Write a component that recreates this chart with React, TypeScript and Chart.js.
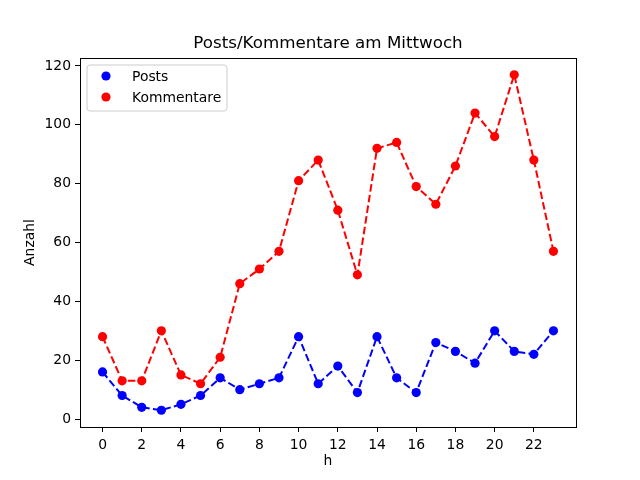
import { useEffect, useRef } from 'react';
import { Chart, registerables } from 'chart.js';

Chart.register(...registerables);

const hours = [0, 1, 2, 3, 4, 5, 6, 7, 8, 9, 10, 11, 12, 13, 14, 15, 16, 17, 18, 19, 20, 21, 22, 23];
const posts = [16, 8, 4, 3, 5, 8, 14, 10, 12, 14, 28, 12, 18, 9, 28, 14, 9, 26, 23, 19, 30, 23, 22, 30];
const kommentare = [28, 13, 13, 30, 15, 12, 21, 46, 51, 57, 81, 88, 71, 49, 92, 94, 79, 73, 86, 104, 96, 117, 88, 57];
const xTicks = [0, 2, 4, 6, 8, 10, 12, 14, 16, 18, 20, 22];
const yTicks = [0, 20, 40, 60, 80, 100, 120];

const FONT = 'DejaVu Sans';

// frame, title and in-axes legend like matplotlib
const decorPlugin = {
  id: 'decor',
  afterDraw(chart: Chart) {
    const { ctx, chartArea } = chart;
    ctx.save();
    ctx.strokeStyle = '#000';
    ctx.lineWidth = 1;
    ctx.strokeRect(
      Math.round(chartArea.left) + 0.5,
      Math.round(chartArea.top) + 0.5,
      Math.round(chartArea.right - chartArea.left),
      Math.round(chartArea.bottom - chartArea.top)
    );

    ctx.fillStyle = '#000';
    ctx.font = `16.7px "${FONT}"`;
    ctx.textAlign = 'center';
    ctx.textBaseline = 'middle';
    ctx.fillText('Posts/Kommentare am Mittwoch', (chartArea.left + chartArea.right) / 2, 44);

    // legend box
    const bx = 87, by = 65, bw = 140, bh = 46, r = 3;
    ctx.beginPath();
    ctx.moveTo(bx + r, by);
    ctx.arcTo(bx + bw, by, bx + bw, by + bh, r);
    ctx.arcTo(bx + bw, by + bh, bx, by + bh, r);
    ctx.arcTo(bx, by + bh, bx, by, r);
    ctx.arcTo(bx, by, bx + bw, by, r);
    ctx.closePath();
    ctx.fillStyle = 'rgba(255,255,255,0.8)';
    ctx.fill();
    ctx.strokeStyle = '#cccccc';
    ctx.stroke();

    chart.data.datasets.forEach((ds: any, i: number) => {
      const y = 76 + i * 21;
      ctx.beginPath();
      ctx.arc(106, y, 4.6, 0, Math.PI * 2);
      ctx.fillStyle = ds.pointBackgroundColor;
      ctx.fill();
      ctx.fillStyle = '#000';
      ctx.font = `13.9px "${FONT}"`;
      ctx.textAlign = 'left';
      ctx.textBaseline = 'middle';
      ctx.fillText(ds.label, 132, y + 1);
    });
    ctx.restore();
  },
};

export default function App() {
  const canvasRef = useRef<HTMLCanvasElement>(null);

  useEffect(() => {
    document.body.style.margin = '0';
    if (!canvasRef.current) return;
    const makeSet = (label: string, values: number[], color: string) => ({
      label,
      data: values.map((v, i) => ({ x: hours[i], y: v })),
      borderColor: color,
      backgroundColor: color,
      pointBackgroundColor: color,
      pointBorderColor: color,
      pointRadius: 4.6,
      pointBorderWidth: 0,
      borderWidth: 2,
      borderDash: [7.5, 3.3],
      tension: 0,
    });

    const chart = new Chart(canvasRef.current, {
      type: 'line',
      data: {
        datasets: [makeSet('Posts', posts, '#0000ff'), makeSet('Kommentare', kommentare, '#ff0000')],
      },
      options: {
        animation: false,
        responsive: true,
        maintainAspectRatio: false,
        layout: { padding: { top: 58, right: 64, left: 0, bottom: 0 } },
        plugins: {
          legend: { display: false },
          tooltip: { enabled: false },
          title: { display: false },
        },
        scales: {
          x: {
            type: 'linear',
            min: -1.15,
            max: 24.15,
            afterBuildTicks: (scale: any) => {
              scale.ticks = xTicks.map((v) => ({ value: v }));
            },
            afterFit: (scale: any) => {
              scale.height = 53;
            },
            grid: { drawOnChartArea: false, tickLength: 5, color: '#000', tickWidth: 1 },
            border: { display: true, color: '#000', width: 1 },
            ticks: {
              color: '#000',
              font: { family: FONT, size: 13.9 },
              padding: 5,
              maxRotation: 0,
              autoSkip: false,
            },
            title: {
              display: true,
              text: 'h',
              color: '#000',
              font: { family: FONT, size: 13.9 },
              padding: { top: 0, bottom: 10 },
            },
          },
          y: {
            type: 'linear',
            min: -2.7,
            max: 122.7,
            afterBuildTicks: (scale: any) => {
              scale.ticks = yTicks.map((v) => ({ value: v }));
            },
            afterFit: (scale: any) => {
              scale.width = 80;
            },
            grid: { drawOnChartArea: false, tickLength: 5, color: '#000', tickWidth: 1 },
            border: { display: true, color: '#000', width: 1 },
            ticks: {
              color: '#000',
              font: { family: FONT, size: 13.9 },
              padding: 4,
              autoSkip: false,
            },
            title: {
              display: true,
              text: 'Anzahl',
              color: '#000',
              font: { family: FONT, size: 13.9 },
              padding: { top: 22, bottom: 0 },
            },
          },
        },
      },
      plugins: [decorPlugin],
    });

    return () => {
      chart.destroy();
    };
  }, []);

  return (
    <div style={{ position: 'absolute', left: 0, top: 0, width: 640, height: 480, background: '#fff' }}>
      <canvas ref={canvasRef} />
    </div>
  );
}
